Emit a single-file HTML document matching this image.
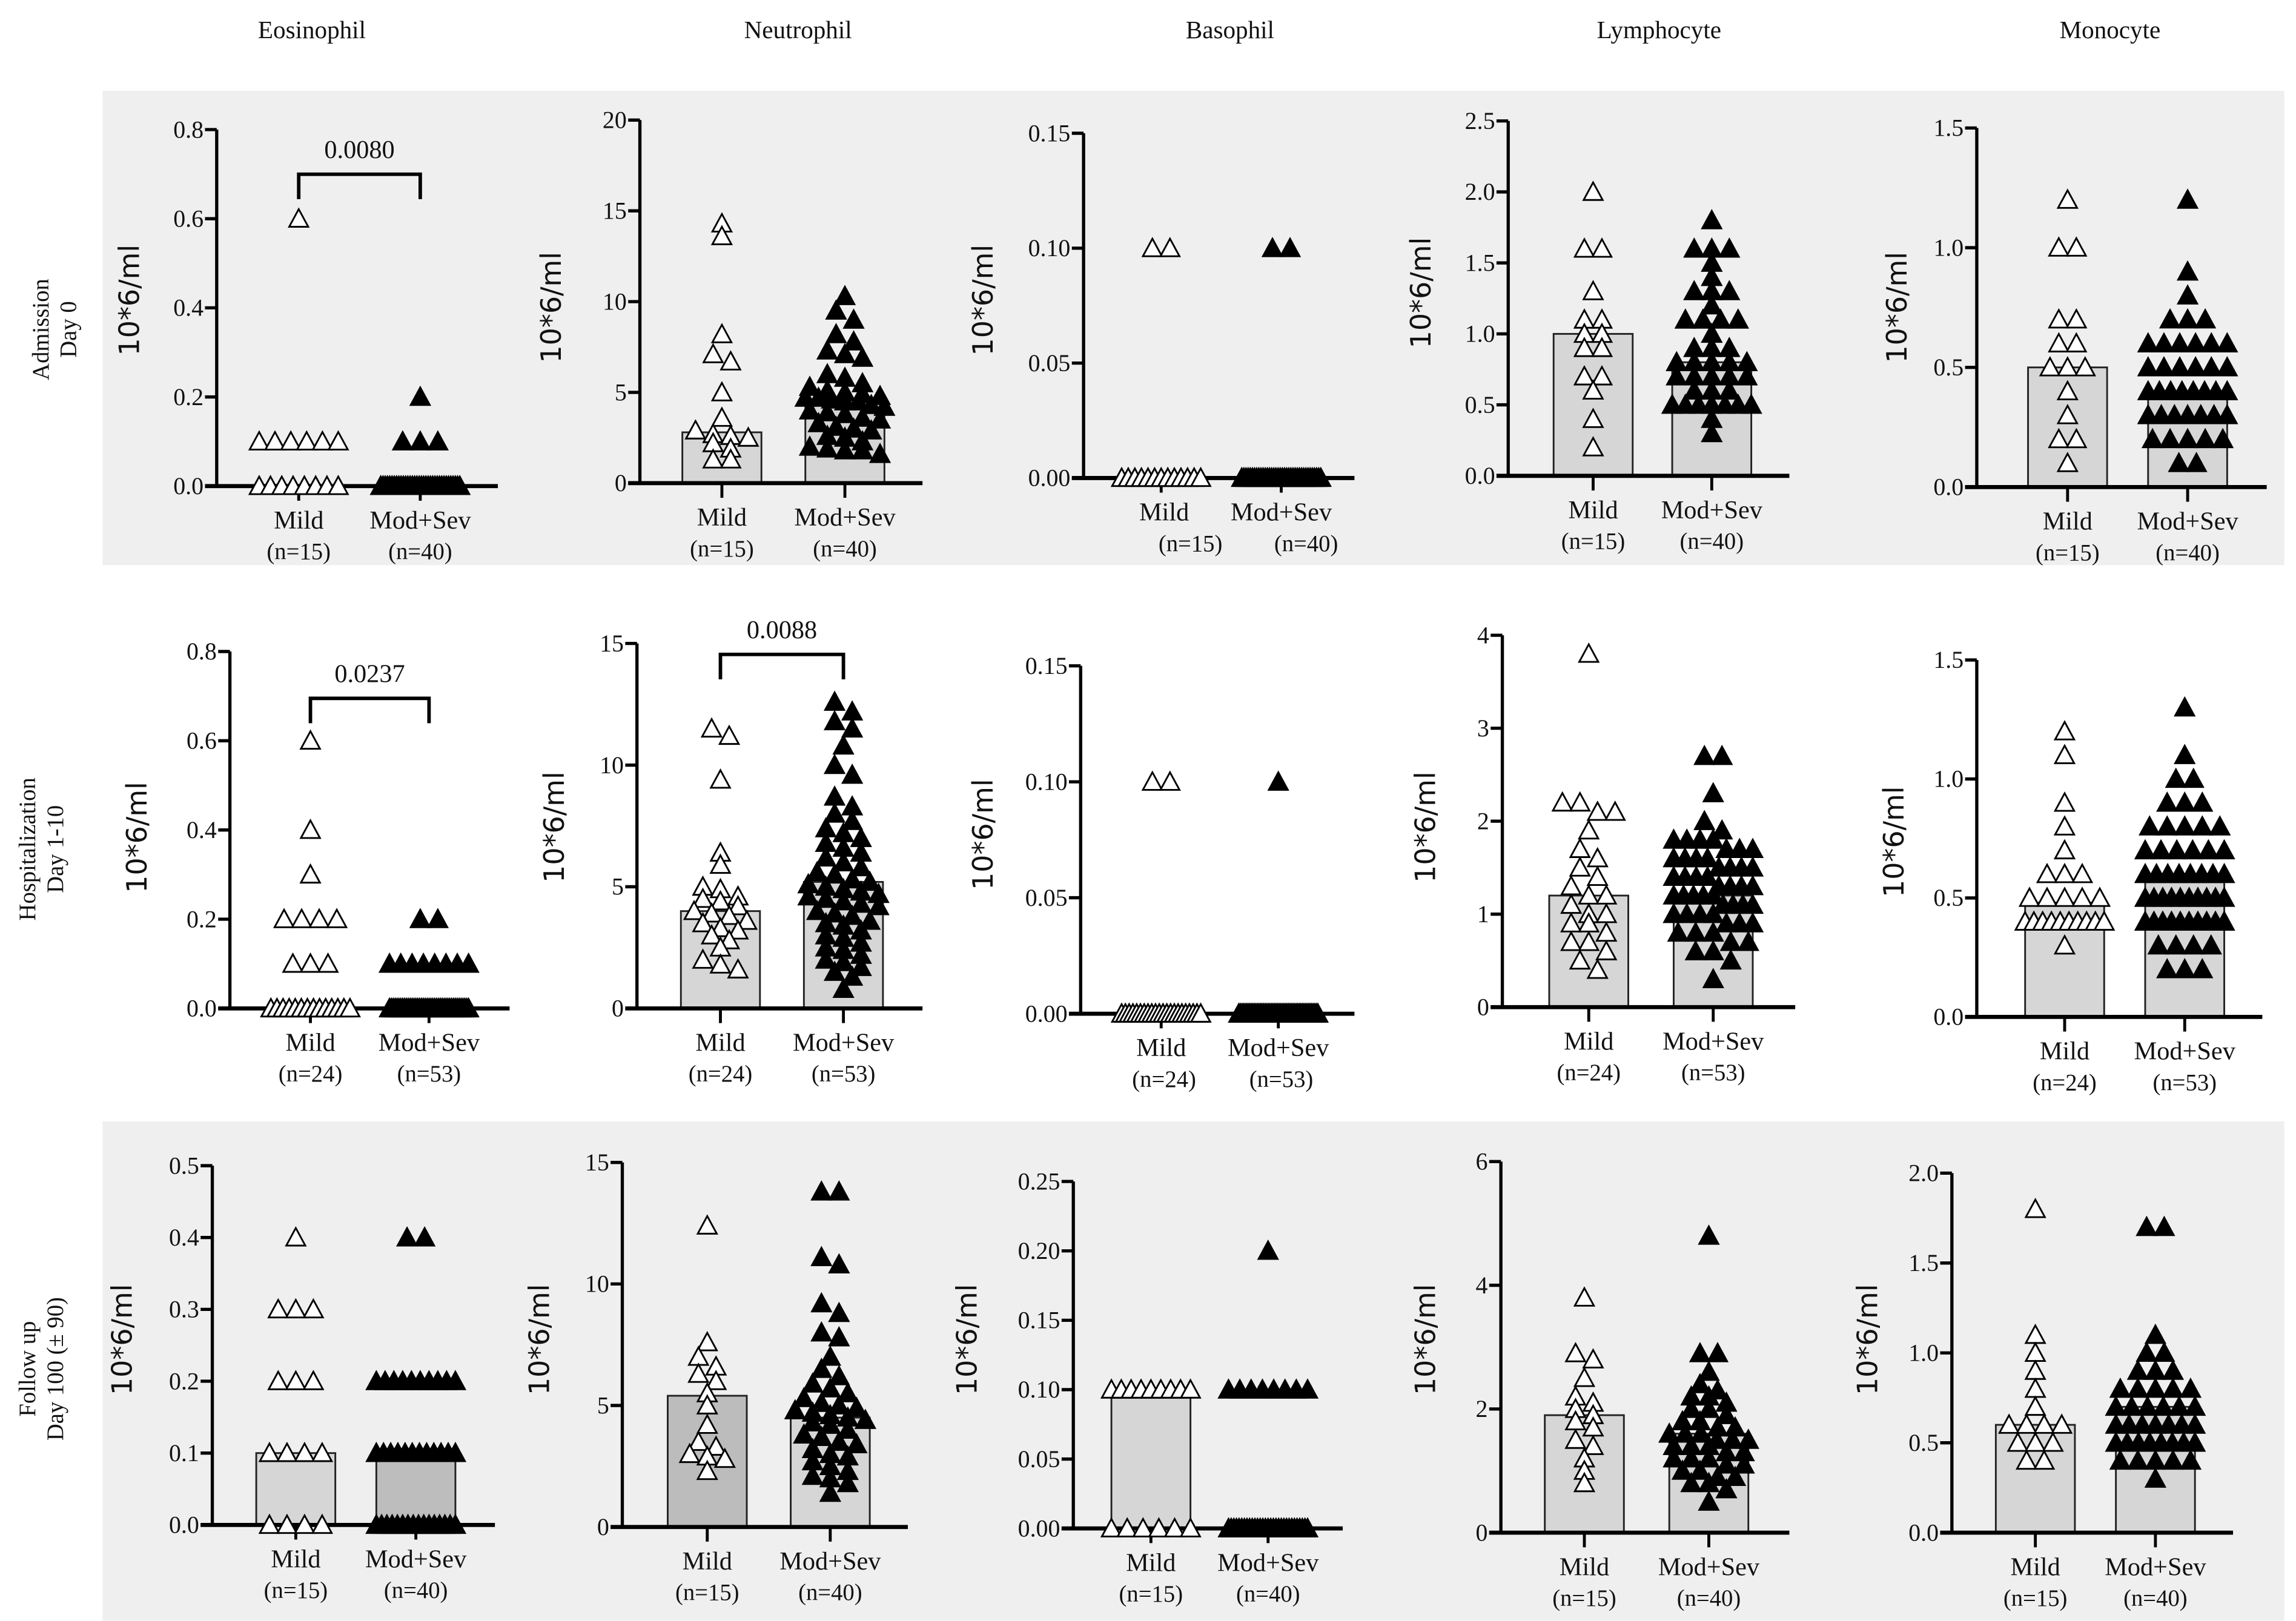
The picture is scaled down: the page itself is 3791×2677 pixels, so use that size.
<!DOCTYPE html>
<html><head><meta charset="utf-8"><style>
html,body{margin:0;padding:0;background:#fff;}
svg{display:block;}
text{font-family:"Liberation Serif",serif;fill:#111;}
.yl{font-family:"DejaVu Sans","Liberation Sans",sans-serif;}
</style></head><body>
<svg id="fig" width="3791" height="2677" viewBox="0 0 1568 1107.2" xmlns="http://www.w3.org/2000/svg">
<rect x="70" y="62" width="1490" height="324" fill="#efefef"/>
<rect x="70" y="766" width="1490" height="341" fill="#efefef"/>
<g font-size="17" text-anchor="middle">
<text x="213" y="26">Eosinophil</text>
<text x="545" y="26">Neutrophil</text>
<text x="840" y="26">Basophil</text>
<text x="1133" y="26">Lymphocyte</text>
<text x="1441" y="26">Monocyte</text>
</g>
<g font-size="16" text-anchor="middle">
<text transform="translate(33,225) rotate(-90)"><tspan x="0" y="0">Admission</tspan><tspan x="0" y="19">Day 0</tspan></text>
<text transform="translate(24,580) rotate(-90)"><tspan x="0" y="0">Hospitalization</tspan><tspan x="0" y="19">Day 1-10</tspan></text>
<text transform="translate(24,935) rotate(-90)"><tspan x="0" y="0">Follow up</tspan><tspan x="0" y="19">Day 100 (± 90)</tspan></text>
</g>
</svg>
<script>
// ---- data ----
const categories = ["Mild", "Mod+Sev"];
const rowNs = [["(n=15)","(n=40)"],["(n=24)","(n=53)"],["(n=15)","(n=40)"]];
// Row 1 (Admission)
const r1EosMild = [0.6,0.1,0.1,0.1,0.1,0.1,0.1,0,0,0,0,0,0,0,0];
const r1EosSev = [0.2,0.1,0.1,0.1].concat(Array(36).fill(0));
const r1EosMedian = [0,0];
const r1NeuMild = [14.3,13.6,8.2,7.1,6.7,5.0,3.6,2.9,2.7,2.6,2.5,2.2,1.9,1.3,1.3];
const r1NeuSev = [10.3,9.5,9,8.2,7.8,7.3,7.1,6.9,6.0,5.8,5.5,5.3,5.1,5.0,4.9,4.8,4.7,4.7,4.6,4.5,4.5,4.3,4.2,4.0,3.9,3.8,3.6,3.5,3.3,3.1,3.0,2.9,2.6,2.5,2.3,2.0,1.9,1.8,1.8,1.6];
const r1NeuMedian = [2.8,4.6];
const r1BasMild = [0.1,0.1].concat(Array(13).fill(0));
const r1BasSev = [0.1,0.1].concat(Array(38).fill(0));
const r1BasMedian = [0,0];
const r1LymMild = [2.0,1.6,1.6,1.3,1.1,1.1,1.0,1.0,0.9,0.9,0.7,0.7,0.6,0.4,0.2];
const r1LymSev = [1.8,1.6,1.6,1.6,1.5,1.4,1.3,1.3,1.3,1.2,1.1,1.1,1.1,1.1,1.0,0.9,0.9,0.9,0.8,0.8,0.8,0.8,0.8,0.7,0.7,0.7,0.7,0.7,0.6,0.6,0.6,0.5,0.5,0.5,0.5,0.5,0.5,0.5,0.4,0.3];
const r1LymMedian = [1.0,0.8];
const r1MonMild = [1.2,1.0,1.0,0.7,0.7,0.6,0.6,0.5,0.5,0.5,0.4,0.3,0.2,0.2,0.1];
const r1MonSev = [1.2,0.9,0.8,0.7,0.7,0.7,0.6,0.6,0.6,0.6,0.6,0.6,0.5,0.5,0.5,0.5,0.5,0.5,0.4,0.4,0.4,0.4,0.4,0.4,0.4,0.4,0.3,0.3,0.3,0.3,0.3,0.3,0.3,0.2,0.2,0.2,0.2,0.2,0.1,0.1];
const r1MonMedian = [0.5,0.4];
// Row 2 (Hospitalization)
const r2EosMild = [0.6,0.4,0.3,0.2,0.2,0.2,0.2,0.1,0.1,0.1].concat(Array(14).fill(0));
const r2EosSev = [0.2,0.2,0.1,0.1,0.1,0.1,0.1,0.1,0.1,0.1].concat(Array(43).fill(0));
const r2EosMedian = [0,0];
const r2NeuMild = [11.5,11.2,9.4,6.4,5.9,5.0,4.9,4.6,4.5,4.4,4.2,4.0,3.9,3.8,3.6,3.5,3.3,3.2,3.0,2.8,2.5,2.0,1.8,1.6];
const r2NeuSev = [12.6,12.2,11.8,11.5,10.8,10.0,9.6,8.7,8.3,8.0,7.7,7.4,7.2,7.0,6.8,6.6,6.4,6.2,6.0,5.8,5.6,5.5,5.3,5.2,5.1,5.0,4.9,4.8,4.7,4.6,4.5,4.4,4.3,4.2,4.0,3.9,3.8,3.6,3.5,3.4,3.2,3.0,2.9,2.7,2.5,2.4,2.2,2.0,1.9,1.7,1.5,1.3,0.8];
const r2NeuMedian = [4.0,5.2];
const r2BasMild = [0.1,0.1].concat(Array(22).fill(0));
const r2BasSev = [0.1].concat(Array(52).fill(0));
const r2BasMedian = [0,0];
const r2LymMild = [3.8,2.2,2.2,2.1,2.1,1.9,1.7,1.6,1.5,1.4,1.3,1.2,1.2,1.1,1.0,1.0,0.9,0.9,0.8,0.7,0.7,0.6,0.5,0.4];
const r2LymSev = [2.7,2.7,2.3,2.0,1.9,1.8,1.8,1.8,1.8,1.7,1.7,1.7,1.6,1.6,1.6,1.6,1.5,1.5,1.5,1.5,1.4,1.4,1.4,1.4,1.3,1.3,1.3,1.3,1.2,1.2,1.2,1.2,1.2,1.1,1.1,1.1,1.1,1.0,1.0,1.0,1.0,0.9,0.9,0.9,0.8,0.8,0.8,0.7,0.7,0.6,0.6,0.5,0.3];
const r2LymMedian = [1.2,1.2];
const r2MonMild = [1.2,1.1,0.9,0.8,0.7,0.6,0.6,0.6,0.5,0.5,0.5,0.5,0.5,0.4,0.4,0.4,0.4,0.4,0.4,0.4,0.4,0.4,0.4,0.3];
const r2MonSev = [1.3,1.1,1.0,1.0,0.9,0.9,0.9,0.8,0.8,0.8,0.8,0.8,0.7,0.7,0.7,0.7,0.7,0.7,0.6,0.6,0.6,0.6,0.6,0.6,0.6,0.6,0.5,0.5,0.5,0.5,0.5,0.5,0.5,0.5,0.5,0.5,0.4,0.4,0.4,0.4,0.4,0.4,0.4,0.4,0.4,0.4,0.3,0.3,0.3,0.3,0.2,0.2,0.2];
const r2MonMedian = [0.48,0.6];
// Row 3 (Follow up)
const r3EosMild = [0.4,0.3,0.3,0.3,0.2,0.2,0.2,0.1,0.1,0.1,0.1,0,0,0,0];
const r3EosSev = [0.4,0.4].concat(Array(10).fill(0.2),Array(12).fill(0.1),Array(16).fill(0));
const r3EosMedian = [0.1,0.1];
const r3NeuMild = [12.4,7.6,7.0,6.6,6.3,6.0,5.5,5.0,4.2,3.5,3.3,3.0,2.9,2.8,2.3];
const r3NeuSev = [13.8,13.8,11.1,10.8,9.2,8.8,8.0,7.8,7.0,6.5,6.2,5.9,5.7,5.5,5.3,5.1,5.0,4.9,4.8,4.7,4.6,4.5,4.4,4.3,4.2,4.0,3.8,3.7,3.5,3.4,3.2,3.0,2.9,2.7,2.5,2.3,2.1,2.0,1.8,1.4];
const r3NeuMedian = [5.4,4.5];
const r3BasMild = Array(9).fill(0.1).concat(Array(6).fill(0));
const r3BasSev = [0.2].concat(Array(8).fill(0.1),Array(31).fill(0));
const r3BasMedian = [0.097,0];
const r3LymMild = [3.8,2.9,2.8,2.5,2.2,2.1,2.0,1.9,1.8,1.7,1.5,1.4,1.2,1.0,0.8];
const r3LymSev = [4.8,2.9,2.9,2.6,2.4,2.3,2.2,2.2,2.1,2.0,2.0,1.9,1.8,1.8,1.7,1.7,1.6,1.6,1.6,1.5,1.5,1.5,1.4,1.4,1.4,1.3,1.3,1.2,1.2,1.2,1.1,1.1,1.0,1.0,0.9,0.9,0.8,0.8,0.7,0.5];
const r3LymMedian = [1.9,1.6];
const r3MonMild = [1.8,1.1,1.0,0.9,0.8,0.7,0.6,0.6,0.6,0.6,0.5,0.5,0.5,0.4,0.4];
const r3MonSev = [1.7,1.7,1.1,1.0,1.0,0.9,0.9,0.9,0.8,0.8,0.8,0.8,0.8,0.7,0.7,0.7,0.7,0.7,0.7,0.6,0.6,0.6,0.6,0.6,0.6,0.6,0.5,0.5,0.5,0.5,0.5,0.5,0.5,0.5,0.4,0.4,0.4,0.4,0.4,0.3];
const r3MonMedian = [0.6,0.7];
// tick labels
const tickEos8 = ["0.0","0.2","0.4","0.6","0.8"];
const tickNeu20 = ["0","5","10","15","20"];
const tickNeu15 = ["0","5","10","15"];
const tickBas15 = ["0.00","0.05","0.10","0.15"];
const tickBas25 = ["0.00","0.05","0.10","0.15","0.20","0.25"];
const tickLym25 = ["0.0","0.5","1.0","1.5","2.0","2.5"];
const tickLym4 = ["0","1","2","3","4"];
const tickLym6 = ["0","2","4","6"];
const tickMon15 = ["0.0","0.5","1.0","1.5"];
const tickMon20 = ["0.0","0.5","1.0","1.5","2.0"];
const tickEos5 = ["0.0","0.1","0.2","0.3","0.4","0.5"];
const pValues = ["0.0080","0.0237","0.0088"];

// ---- layout (geometry only) ----
const panels = [
 {n:"r1-eosinophil",row:0,ax:148,x1:340,yT:88.5,y0:332,cx:[204,287],ticks:tickEos8,mild:r1EosMild,sev:r1EosSev,med:r1EosMedian,yl:[95,205],p:pValues[0],pY:119,lx:[204,287],nx:[204,287]},
 {n:"r1-neutrophil",row:0,ax:437,x1:630,yT:82,y0:330,cx:[493,577],ticks:tickNeu20,mild:r1NeuMild,sev:r1NeuSev,med:r1NeuMedian,yl:[383,210],lx:[493,577],nx:[493,577]},
 {n:"r1-basophil",row:0,ax:740,x1:925,yT:91,y0:326.5,cx:[793,875],ticks:tickBas15,mild:r1BasMild,sev:r1BasSev,med:r1BasMedian,yl:[678,205],lx:[795,875],nx:[813,892]},
 {n:"r1-lymphocyte",row:0,ax:1030,x1:1222,yT:82.6,y0:325,cx:[1088,1169],ticks:tickLym25,mild:r1LymMild,sev:r1LymSev,med:r1LymMedian,yl:[977,200],lx:[1088,1169],nx:[1088,1169]},
 {n:"r1-monocyte",row:0,ax:1350,x1:1548,yT:87.4,y0:332.7,cx:[1412,1494],ticks:tickMon15,mild:r1MonMild,sev:r1MonSev,med:r1MonMedian,yl:[1302,210],lx:[1412,1494],nx:[1412,1494]},
 {n:"r2-eosinophil",row:1,ax:157,x1:348,yT:445,y0:688.8,cx:[212,293],ticks:tickEos8,mild:r2EosMild,sev:r2EosSev,med:r2EosMedian,yl:[100,572],p:pValues[1],pY:477,lx:[212,293],nx:[212,293]},
 {n:"r2-neutrophil",row:1,ax:435,x1:630,yT:439.5,y0:688.8,cx:[492,576],ticks:tickNeu15,mild:r2NeuMild,sev:r2NeuSev,med:r2NeuMedian,yl:[385,565],p:pValues[2],pY:447,lx:[492,576],nx:[492,576]},
 {n:"r2-basophil",row:1,ax:738,x1:925,yT:454.8,y0:692.4,cx:[793,873],ticks:tickBas15,mild:r2BasMild,sev:r2BasSev,med:r2BasMedian,yl:[678,570],lx:[793,873],nx:[795,875]},
 {n:"r2-lymphocyte",row:1,ax:1026,x1:1226,yT:433.9,y0:687.9,cx:[1085,1170],ticks:tickLym4,mild:r2LymMild,sev:r2LymSev,med:r2LymMedian,yl:[980,565],lx:[1085,1170],nx:[1085,1170]},
 {n:"r2-monocyte",row:1,ax:1350,x1:1545,yT:450.8,y0:694.6,cx:[1410,1492],ticks:tickMon15,mild:r2MonMild,sev:r2MonSev,med:r2MonMedian,yl:[1300,575],lx:[1410,1492],nx:[1410,1492]},
 {n:"r3-eosinophil",row:2,ax:145,x1:338,yT:796.2,y0:1041.6,cx:[202,284],ticks:tickEos5,mild:r3EosMild,sev:r3EosSev,med:r3EosMedian,yl:[90,915],lx:[202,284],nx:[202,284],fill:["#d6d6d6","#bdbdbd"]},
 {n:"r3-neutrophil",row:2,ax:425,x1:620,yT:794,y0:1043,cx:[483,567],ticks:tickNeu15,mild:r3NeuMild,sev:r3NeuSev,med:r3NeuMedian,yl:[375,915],lx:[483,567],nx:[483,567],fill:["#bcbcbc","#d6d6d6"]},
 {n:"r3-basophil",row:2,ax:733,x1:917,yT:807,y0:1044,cx:[786,866],ticks:tickBas25,mild:r3BasMild,sev:r3BasSev,med:r3BasMedian,yl:[667,915],lx:[786,866],nx:[786,866]},
 {n:"r3-lymphocyte",row:2,ax:1025,x1:1222,yT:793.4,y0:1046.9,cx:[1082,1167],ticks:tickLym6,mild:r3LymMild,sev:r3LymSev,med:r3LymMedian,yl:[980,915],lx:[1082,1167],nx:[1082,1167]},
 {n:"r3-monocyte",row:2,ax:1333,x1:1525,yT:801.3,y0:1046.9,cx:[1390,1472],ticks:tickMon20,mild:r3MonMild,sev:r3MonSev,med:r3MonMedian,yl:[1282,915],lx:[1390,1472],nx:[1390,1472]}
];

const NS = "http://www.w3.org/2000/svg";
const fig = document.getElementById("fig");
function mk(tag, attrs, parent){
  const e = document.createElementNS(NS, tag);
  for (const k in attrs) e.setAttribute(k, attrs[k]);
  (parent||fig).appendChild(e);
  return e;
}
const BAR_HALF = 27;

panels.forEach(P => {
  const g = mk("g", {});
  
  
  const ymax = parseFloat(P.ticks[P.ticks.length-1]);
  const yS = v => P.y0 - (v / ymax) * (P.y0 - P.yT);
  [0,1].forEach(i => {
    if (P.med[i] > 0) {
      const b = mk("rect", {x:P.cx[i]-BAR_HALF, y:yS(P.med[i]), width:BAR_HALF*2, height:P.y0-yS(P.med[i]), fill:(P.fill?P.fill[i]:"#d6d6d6"), stroke:"#222", "stroke-width":1.2}, g);
      
      
    }
  });
  const ya = mk("line", {x1:P.ax, y1:P.yT, x2:P.ax, y2:P.y0, stroke:"#000", "stroke-width":2.2}, g);
  
  
  const xa = mk("line", {x1:P.ax-8, y1:P.y0, x2:P.x1, y2:P.y0, stroke:"#000", "stroke-width":2.8}, g);
  
  
  P.ticks.forEach(t => {
    const y = yS(parseFloat(t));
    mk("line", {x1:P.ax-8, y1:y, x2:P.ax, y2:y, stroke:"#000", "stroke-width":2.2}, g);
    const tl = mk("text", {x:P.ax-9, y:y+5.5, "font-size":16.5, "text-anchor":"end"}, g);
    
    
    tl.textContent = t;
  });
  const yl = mk("text", {class:"yl", "font-size":19, "text-anchor":"middle", transform:"translate("+P.yl[0]+","+P.yl[1]+") rotate(-90)"}, g);
  
  
  yl.textContent = "10*6/ml";
  [0,1].forEach(i => {
    mk("line", {x1:P.cx[i], y1:P.y0, x2:P.cx[i], y2:P.y0+10, stroke:"#000", "stroke-width":2}, g);
    const cl = mk("text", {x:P.lx[i], y:P.y0+29, "font-size":17.5, "text-anchor":"middle"}, g);
    
    
    cl.textContent = categories[i];
    const nl = mk("text", {x:P.nx[i], y:P.y0+50, "font-size":16, "text-anchor":"middle"}, g);
    
    
    nl.textContent = rowNs[P.row][i];
  });
  [P.mild, P.sev].forEach((vals, i) => {
    const sorted = vals.slice().sort((a,b)=>b-a);
    const groups = [];
    sorted.forEach(v => {
      const y = yS(v);
      const last = groups[groups.length-1];
      if (last && Math.abs(last.y0 - y) < 7) last.pts.push(y); else groups.push({y0:y, pts:[y]});
    });
    groups.forEach(gr => {
      const k = gr.pts.length;
      const sp = k > 1 ? Math.min(12, 54/(k-1)) : 0;
      gr.pts.forEach((y, j) => {
        const x = P.cx[i] + (j - (k-1)/2) * sp;
        const tri = mk("path", {d:"M"+x+","+(y-6.5)+"L"+(x-6.5)+","+(y+5.5)+"L"+(x+6.5)+","+(y+5.5)+"Z", fill:(i===0?"#fff":"#000"), stroke:"#000", "stroke-width":1.2}, g);
        
        
      });
    });
  });
  if (P.p) {
    const br = mk("path", {d:"M"+P.cx[0]+","+(P.pY+17)+"V"+P.pY+"H"+P.cx[1]+"V"+(P.pY+17), fill:"none", stroke:"#000", "stroke-width":2.4}, g);
    
    
    const pt = mk("text", {x:(P.cx[0]+P.cx[1])/2, y:P.pY-11, "font-size":17.5, "text-anchor":"middle"}, g);
    
    
    pt.textContent = P.p;
  }
});
</script>
</body></html>
